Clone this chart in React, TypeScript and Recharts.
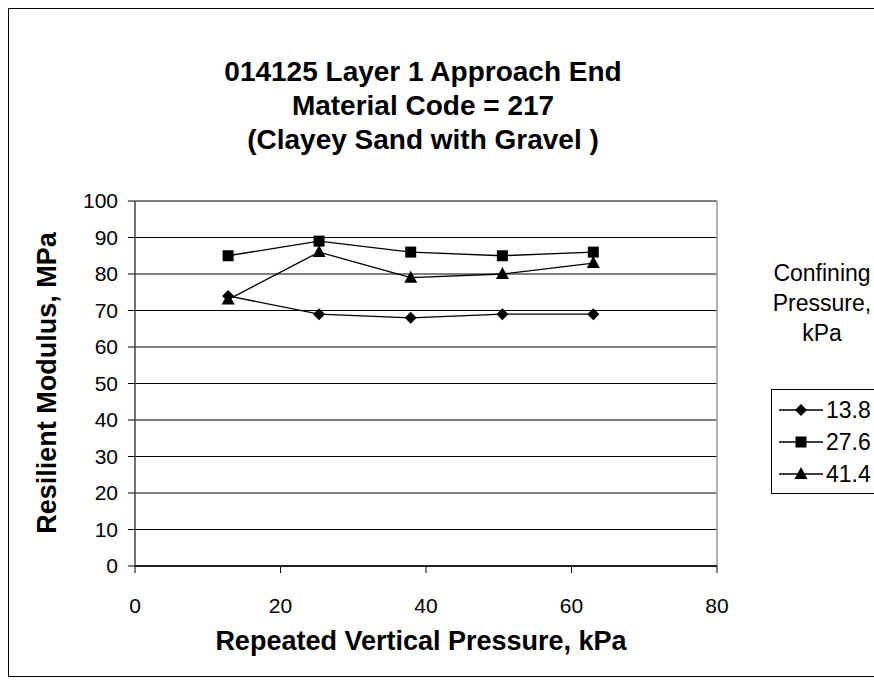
import React from 'react';
import { LineChart, Line, XAxis, YAxis, CartesianGrid, ReferenceLine } from 'recharts';

// repeated vertical pressure, kPa
const pressure = [12.8, 25.3, 37.9, 50.5, 63.0];
// resilient modulus, MPa, per confining pressure
const mr138 = [74, 69, 68, 69, 69];
const mr276 = [85, 89, 86, 85, 86];
const mr414 = [73, 86, 79, 80, 83];

const seriesNames = ['13.8', '27.6', '41.4'];
const seriesKeys = ['c138', 'c276', 'c414'];
const seriesShapes = ['diamond', 'square', 'triangle'];
const xTicks = [0, 20, 40, 60, 80];
const yTicks = [0, 10, 20, 30, 40, 50, 60, 70, 80, 90, 100];
const titleLines = ['014125 Layer 1 Approach End', 'Material Code = 217', '(Clayey Sand with Gravel )'];
const legendTitle = ['Confining', 'Pressure,', 'kPa'];

const data = pressure.map((p, i) => ({ x: p, c138: mr138[i], c276: mr276[i], c414: mr414[i] }));

const FONT = 'Arial, "Liberation Sans", sans-serif';

const Marker = ({ cx, cy, shape }: { cx: number; cy: number; shape: string }) => {
  if (shape === 'diamond') {
    return <path d={`M${cx},${cy - 6}L${cx + 6},${cy}L${cx},${cy + 6}L${cx - 6},${cy}Z`} fill="#000" />;
  }
  if (shape === 'square') {
    return <rect x={cx - 5.5} y={cy - 5.5} width={11} height={11} fill="#000" />;
  }
  return <path d={`M${cx},${cy - 7}L${cx + 6.5},${cy + 5}L${cx - 6.5},${cy + 5}Z`} fill="#000" />;
};

const LegendBox = () => (
  <div
    style={{
      position: 'absolute',
      left: 762,
      top: 380,
      border: '1px solid #000',
      background: '#fff',
      width: 140,
      padding: '4px 0 3px 7px',
      fontSize: 23,
    }}
  >
    {seriesNames.map((name, i) => (
      <div key={name} style={{ display: 'flex', alignItems: 'center', height: 32 }}>
        <svg width={44} height={16} style={{ display: 'block' }}>
          <line x1={0} y1={8} x2={44} y2={8} stroke="#000" strokeWidth={1.3} />
          <Marker cx={22} cy={8} shape={seriesShapes[i]} />
        </svg>
        <span style={{ marginLeft: 3, lineHeight: '32px' }}>{name}</span>
      </div>
    ))}
  </div>
);

export default function App() {
  return (
    <div style={{ position: 'fixed', left: 0, top: 0, width: 874, height: 685, overflow: 'hidden', background: '#fff' }}>
      <div
        style={{
          position: 'absolute',
          left: 8,
          top: 8,
          width: 880,
          height: 667,
          borderLeft: '1px solid #000',
          borderTop: '1px solid #000',
          borderBottom: '1px solid #000',
          fontFamily: FONT,
        }}
      >
        <div style={{ position: 'absolute', left: 0, top: 0 }}>
          <LineChart width={865} height={667} data={data} margin={{ top: 192, right: 157, bottom: 80, left: 50 }}>
            <CartesianGrid horizontal vertical={false} stroke="#000" strokeWidth={1} />
            <ReferenceLine x={80} stroke="#999" strokeWidth={1.5} />
            <XAxis
              type="number"
              dataKey="x"
              domain={[0, 80]}
              ticks={xTicks}
              interval={0}
              height={30}
              tickSize={7}
              tickMargin={25}
              axisLine={{ stroke: '#000', strokeWidth: 1.5 }}
              tickLine={{ stroke: '#000' }}
              tick={{ fill: '#000', fontSize: 21, fontFamily: FONT }}
            />
            <YAxis
              type="number"
              domain={[0, 100]}
              ticks={yTicks}
              interval={0}
              width={76}
              tickSize={7}
              tickMargin={10}
              axisLine={{ stroke: '#444', strokeWidth: 1.5 }}
              tickLine={{ stroke: '#000' }}
              tick={{ fill: '#000', fontSize: 21, fontFamily: FONT }}
            />
            {seriesKeys.map((k, i) => (
              <Line
                key={k}
                dataKey={k}
                name={seriesNames[i]}
                type="linear"
                stroke="#000"
                strokeWidth={1.3}
                isAnimationActive={false}
                dot={(p: any) => <Marker key={`${k}-${p.index}`} cx={p.cx} cy={p.cy} shape={seriesShapes[i]} />}
                activeDot={false}
              />
            ))}
          </LineChart>
        </div>
        <div style={{ position: 'absolute', left: 0, top: 46, width: 828, textAlign: 'center', fontWeight: 'bold', fontSize: 28, lineHeight: '34px' }}>
          {titleLines.map((t) => (
            <div key={t} style={{ whiteSpace: 'pre' }}>{t}</div>
          ))}
        </div>
        <div style={{ position: 'absolute', left: 38, top: 374, width: 0, height: 0 }}>
          <div
            style={{
              position: 'absolute',
              left: 0,
              top: 0,
              transform: 'translate(-50%, -50%) rotate(-90deg)',
              whiteSpace: 'nowrap',
              fontWeight: 'bold',
              fontSize: 27,
            }}
          >
            Resilient Modulus, MPa
          </div>
        </div>
        <div style={{ position: 'absolute', left: 112, top: 616, width: 600, textAlign: 'center', fontWeight: 'bold', fontSize: 27, lineHeight: '32px' }}>
          Repeated Vertical Pressure, kPa
        </div>
        <div style={{ position: 'absolute', left: 763, top: 249, width: 100, textAlign: 'center', fontSize: 23, lineHeight: '30px' }}>
          {legendTitle.map((t) => (
            <div key={t} style={{ whiteSpace: 'nowrap' }}>{t}</div>
          ))}
        </div>
        <LegendBox />
      </div>
    </div>
  );
}
